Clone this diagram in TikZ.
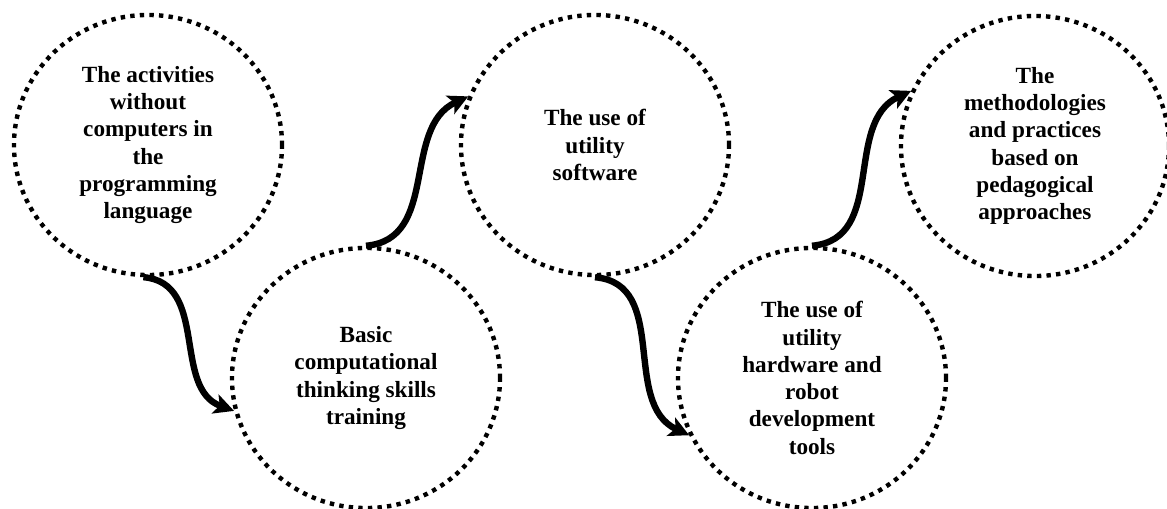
\documentclass[tikz,border=0pt]{standalone}
\usepackage{fontspec}
\setmainfont{Liberation Serif}
\usetikzlibrary{shapes.geometric,arrows.meta}

\begin{document}
\begin{tikzpicture}[
    x=0.025cm, y=0.025cm,
    stage/.style={
        ellipse,
        draw=black,
        line width=0.11cm,
        dash pattern=on 0.11cm off 0.13cm,
        minimum width=6.7cm,
        minimum height=6.5cm,
        inner sep=0pt,
        align=center,
        font=\fontsize{16.5}{19.4}\selectfont\bfseries
    },
    flow/.style={
        draw=black,
        line width=0.16cm,
        -{Stealth[length=0.5cm,width=0.5cm,inset=0.12cm]},
        looseness=1.05
    }
]
% Frame
\useasboundingbox (0,0) rectangle (1167,508);

% Stages
\node[stage] (act) at (148,363) {The activities\\without\\computers in\\the\\programming\\language};
\node[stage] (basic) at (366,130) {Basic\\computational\\thinking skills\\training};
\node[stage] (soft) at (595,363) {The use of\\utility\\software};
\node[stage] (hard) at (812,130) {The use of\\utility\\hardware and\\robot\\development\\tools};
\node[stage] (peda) at (1035,362) {The\\methodologies\\and practices\\based on\\pedagogical\\approaches};

% Links
\draw[flow] (act.268) to[out=-5, in=160] (basic.194);
\draw[flow] (basic.north) to[out=5, in=205] (soft.159);
\draw[flow] (soft.south) to[out=-5, in=155] (hard.205);
\draw[flow] (hard.north) to[out=5, in=205] (peda.156);

\end{tikzpicture}
\end{document}
